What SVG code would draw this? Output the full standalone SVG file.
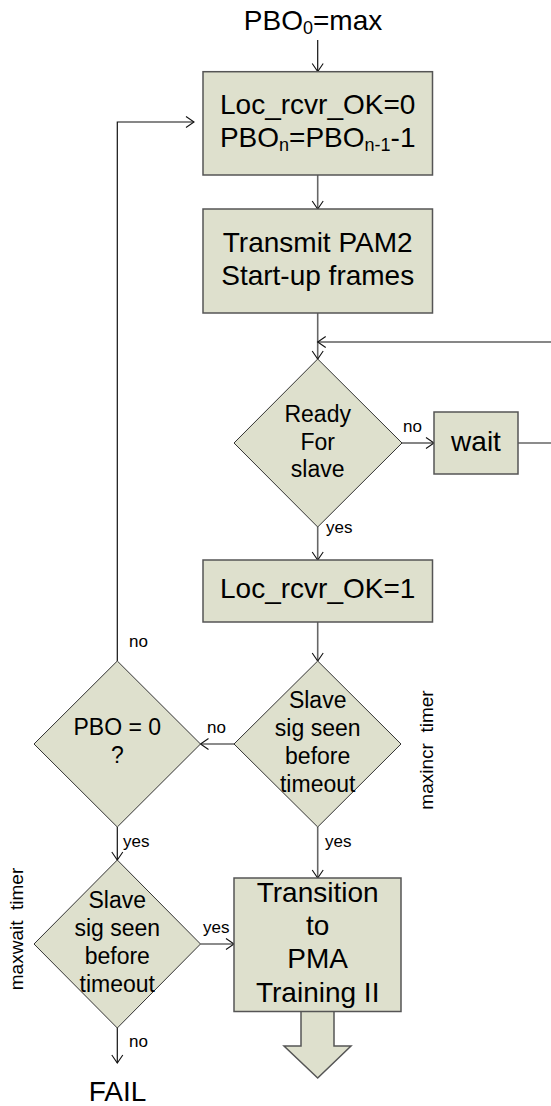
<svg xmlns="http://www.w3.org/2000/svg" width="551" height="1106" viewBox="0 0 551 1106">
  <style>
    text { font-family: "Liberation Sans", Arial, sans-serif; fill: #000; }
    .big { font-size: 28px; text-anchor: middle; }
    .mid { font-size: 23px; text-anchor: middle; }
    .lbl { font-size: 17px; }
    .rot { font-size: 19px; text-anchor: middle; }
    .sub { font-size: 18px; }
    .box { fill: #dee0cd; stroke: #555; stroke-width: 1.5; }
    .dia { fill: #dee0cd; stroke: #333; stroke-width: 1; }
    .flow { fill: none; stroke: #666; stroke-width: 1.6; }
    .thin { fill: none; stroke: #111; stroke-width: 1.2; }
  </style>
  <defs>
    <marker id="arr" markerUnits="userSpaceOnUse" markerWidth="12" markerHeight="14" viewBox="-10 -7 12 14" refX="0" refY="0" orient="auto">
      <path d="M-8,-5.5 L0,0 L-8,5.5" fill="none" stroke="#111" stroke-width="1.1"/>
    </marker>
  </defs>

  <rect width="551" height="1106" fill="#fff"/>

  <!-- connectors -->
  <g id="connectors">
    <line class="thin" x1="317.7" y1="40" x2="317.7" y2="71.5" marker-end="url(#arr)"/>
    <line class="flow" x1="317.7" y1="175" x2="317.7" y2="209" marker-end="url(#arr)"/>
    <line class="flow" x1="317.7" y1="313" x2="317.7" y2="359" marker-end="url(#arr)"/>
    <line class="thin" x1="551" y1="342" x2="317.7" y2="342" marker-end="url(#arr)"/>
    <line class="flow" x1="402" y1="443" x2="434" y2="443" marker-end="url(#arr)"/>
    <line class="flow" x1="518" y1="443" x2="551" y2="443"/>
    <line class="flow" x1="317.7" y1="527" x2="317.7" y2="560" marker-end="url(#arr)"/>
    <line class="flow" x1="317.7" y1="622" x2="317.7" y2="661" marker-end="url(#arr)"/>
    <line class="flow" x1="234" y1="744" x2="200.5" y2="744" marker-end="url(#arr)"/>
    <polyline class="thin" points="117.3,661 117.3,122 194,122" marker-end="url(#arr)"/>
    <line class="thin" x1="117.3" y1="827" x2="117.3" y2="860" marker-end="url(#arr)"/>
    <line class="flow" x1="317.7" y1="827" x2="317.7" y2="878" marker-end="url(#arr)"/>
    <line class="flow" x1="200.5" y1="944" x2="234" y2="944" marker-end="url(#arr)"/>
    <line class="thin" x1="117.3" y1="1028" x2="117.3" y2="1063" marker-end="url(#arr)"/>

    <text class="lbl" x="403" y="432">no</text>
    <text class="lbl" x="326" y="533">yes</text>
    <text class="lbl" x="129" y="647">no</text>
    <text class="lbl" x="207" y="733">no</text>
    <text class="lbl" x="123" y="847">yes</text>
    <text class="lbl" x="325" y="847">yes</text>
    <text class="lbl" x="203" y="933">yes</text>
    <text class="lbl" x="129" y="1047">no</text>
  </g>

  <!-- start condition -->
  <g id="start">
    <text class="big" x="313" y="30">PBO<tspan class="sub" dy="4">0</tspan><tspan dy="-4">=max</tspan></text>
  </g>

  <!-- initialise receiver flag and back-off -->
  <g id="init">
    <rect class="box" x="203" y="71.7" width="229.5" height="103.3"/>
    <text class="big" x="317.7" y="113.5">Loc_rcvr_OK=0</text>
    <text class="big" x="317.7" y="146.5">PBO<tspan class="sub" dy="4">n</tspan><tspan dy="-4">=PBO</tspan><tspan class="sub" dy="4">n-1</tspan><tspan dy="-4">-1</tspan></text>
  </g>

  <g id="transmit">
    <rect class="box" x="203" y="209" width="229.5" height="104"/>
    <text class="big" x="317.7" y="251.5">Transmit PAM2</text>
    <text class="big" x="317.7" y="284.5">Start-up frames</text>
  </g>

  <g id="ready">
    <polygon class="dia" points="317.7,359 402,443 317.7,527 234,443"/>
    <text class="mid" x="317.7" y="421.7">Ready</text>
    <text class="mid" x="317.7" y="450">For</text>
    <text class="mid" x="317.7" y="476.7">slave</text>
  </g>

  <g id="wait">
    <rect class="box" x="434" y="412" width="84" height="62"/>
    <text class="big" x="476" y="451">wait</text>
  </g>

  <g id="loc-ok">
    <rect class="box" x="203" y="560" width="229.5" height="62"/>
    <text class="big" x="317.7" y="598">Loc_rcvr_OK=1</text>
  </g>

  <g id="slave-seen-1">
    <polygon class="dia" points="317.7,661 401,744 317.7,827 234,744"/>
    <text class="mid" x="317.7" y="708">Slave</text>
    <text class="mid" x="317.7" y="736">sig seen</text>
    <text class="mid" x="317.7" y="764">before</text>
    <text class="mid" x="317.7" y="792">timeout</text>
    <text class="rot" transform="translate(433 750) rotate(-90)" xml:space="preserve">maxincr  timer</text>
  </g>

  <g id="pbo-zero">
    <polygon class="dia" points="117.3,661 200.5,744 117.3,827 34,744"/>
    <text class="mid" x="117.3" y="735">PBO = 0</text>
    <text class="mid" x="117.3" y="763">?</text>
  </g>

  <g id="slave-seen-2">
    <polygon class="dia" points="117.3,860 200.5,944 117.3,1028 34,944"/>
    <text class="mid" x="117.3" y="908">Slave</text>
    <text class="mid" x="117.3" y="936">sig seen</text>
    <text class="mid" x="117.3" y="964">before</text>
    <text class="mid" x="117.3" y="992">timeout</text>
    <text class="rot" transform="translate(23 929) rotate(-90)" xml:space="preserve">maxwait  timer</text>
  </g>

  <g id="transition">
    <polygon class="box" points="301,1011 301,1046 284,1046 317.7,1078 351,1046 334,1046 334,1011"/>
    <rect class="box" x="234" y="878" width="167" height="133.5"/>
    <text class="big" x="317.7" y="901.7">Transition</text>
    <text class="big" x="317.7" y="935">to</text>
    <text class="big" x="317.7" y="968">PMA</text>
    <text class="big" x="317.7" y="1001.7">Training II</text>
  </g>

  <g id="fail">
    <text class="big" x="117.5" y="1101">FAIL</text>
  </g>
</svg>
